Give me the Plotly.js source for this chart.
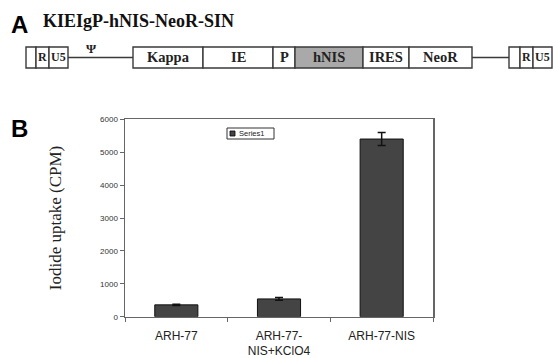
<!DOCTYPE html>
<html>
<head>
<meta charset="utf-8">
<script src="https://cdn.plot.ly/plotly-3.0.1.min.js"></script>
<style>html,body{margin:0;padding:0;background:#fff;}#chart{width:553px;height:358px;}</style>
</head>
<body>
<div id="chart"></div>
<script>
// ---- data ----
const categories = ["ARH-77", "ARH-77-<br>NIS+KClO4", "ARH-77-NIS"];
const uptake = [360, 540, 5400];
const uptakeErr = [20, 40, 200];
const seriesName = "Series1";
const yTickVals = [0, 1000, 2000, 3000, 4000, 5000, 6000];
const constructTitle = "KIEIgP-hNIS-NeoR-SIN";
const mainSegments = ["Kappa", "IE", "P", "hNIS", "IRES", "NeoR"];
const ltrSegments = ["", "R", "U5"];
const psiLabel = "\u03A8";

// ---- layout helpers (pixel -> paper) ----
const W = 553, H = 358;
const px = x => x / W;
const py = y => 1 - y / H;

const shapes = [];
const annotations = [];

// diagram geometry
const boxTop = 47, boxBot = 68, midY = 57.5;
const mainEdges = [133, 203, 273, 295, 363, 409, 472];
const leftEdges = [26, 36, 49, 68];
const rightEdges = [509, 520, 533, 552];
const lineCol = "#3a3a3a";

function addBoxes(edges, labels, fontSize, fills) {
  for (let i = 0; i < labels.length; i++) {
    shapes.push({
      type: "rect", xref: "paper", yref: "paper",
      x0: px(edges[i]), x1: px(edges[i + 1]), y0: py(boxBot), y1: py(boxTop),
      line: {color: lineCol, width: 1.4},
      fillcolor: (fills && fills[i]) || "#fff"
    });
    if (labels[i]) {
      annotations.push({
        xref: "paper", yref: "paper", x: px((edges[i] + edges[i + 1]) / 2), y: py(midY),
        text: "<b>" + labels[i] + "</b>", showarrow: false,
        xanchor: "center", yanchor: "middle",
        font: {family: "Liberation Serif, Times New Roman, serif", size: fontSize, color: "#222"}
      });
    }
  }
}
addBoxes(leftEdges, ltrSegments, 12);
addBoxes(mainEdges, mainSegments, 14.5, [null, null, null, "#a9a9a9", null, null]);
addBoxes(rightEdges, ltrSegments, 12);

// connecting lines
shapes.push({type: "line", xref: "paper", yref: "paper", x0: px(68), x1: px(133), y0: py(midY), y1: py(midY), line: {color: lineCol, width: 1.4}});
shapes.push({type: "line", xref: "paper", yref: "paper", x0: px(472), x1: px(509), y0: py(midY), y1: py(midY), line: {color: lineCol, width: 1.4}});

annotations.push({xref: "paper", yref: "paper", x: px(91), y: py(48.5), text: "<b>" + psiLabel + "</b>", showarrow: false,
  xanchor: "center", yanchor: "middle", font: {family: "Liberation Serif, serif", size: 13, color: "#222"}});

// panel letters & construct title
annotations.push({xref: "paper", yref: "paper", x: px(9), y: py(25), text: "<b>A</b>", showarrow: false,
  xanchor: "left", yanchor: "middle", font: {family: "Liberation Sans, Arial, sans-serif", size: 24, color: "#000"}});
annotations.push({xref: "paper", yref: "paper", x: px(41), y: py(21), text: "<b>" + constructTitle + "</b>", showarrow: false,
  xanchor: "left", yanchor: "middle", font: {family: "Liberation Serif, Times New Roman, serif", size: 18, color: "#111"}});
annotations.push({xref: "paper", yref: "paper", x: px(9), y: py(128), text: "<b>B</b>", showarrow: false,
  xanchor: "left", yanchor: "middle", font: {family: "Liberation Sans, Arial, sans-serif", size: 24, color: "#000"}});

// manual legend
shapes.push({type: "rect", xref: "paper", yref: "paper", x0: px(227), x1: px(274), y0: py(139), y1: py(128),
  line: {color: "#333", width: 1}, fillcolor: "#fff"});
shapes.push({type: "rect", xref: "paper", yref: "paper", x0: px(230), x1: px(235), y0: py(136), y1: py(131),
  line: {color: "#000", width: 0.8}, fillcolor: "#444"});
annotations.push({xref: "paper", yref: "paper", x: px(237), y: py(133.5), text: seriesName, showarrow: false,
  xanchor: "left", yanchor: "middle", font: {family: "Liberation Sans, Arial, sans-serif", size: 7.5, color: "#222"}});

const trace = {
  type: "bar", x: categories, y: uptake, name: seriesName,
  marker: {color: "#444444", line: {color: "#111", width: 1}},
  width: 0.42,
  error_y: {type: "data", array: uptakeErr, visible: true, color: "#111", thickness: 1.5, width: 4}
};

const layout = {
  width: W, height: H,
  margin: {l: 0, r: 0, t: 0, b: 0},
  paper_bgcolor: "#fff", plot_bgcolor: "#fff",
  showlegend: false,
  xaxis: {
    domain: [px(125), px(433)],
    type: "category",
    showline: true, linecolor: "#666", linewidth: 1.5, mirror: true,
    ticks: "outside", tickson: "boundaries", ticklen: 4, tickcolor: "#666",
    ticklabelstandoff: 7,
    tickfont: {family: "Liberation Sans, Arial, sans-serif", size: 12, color: "#222"},
    showgrid: false, zeroline: false, fixedrange: true
  },
  yaxis: {
    domain: [py(316.7), py(119.3)],
    range: [0, 6000],
    tickvals: yTickVals,
    showline: true, linecolor: "#666", linewidth: 1.5, mirror: true,
    ticks: "outside", ticklen: 4, tickcolor: "#666",
    tickfont: {family: "Liberation Sans, Arial, sans-serif", size: 8, color: "#333"},
    showgrid: false, zeroline: false,
    title: {text: "Iodide uptake (CPM)", standoff: 34,
      font: {family: "Liberation Serif, Times New Roman, serif", size: 17, color: "#222"}}
  },
  shapes: shapes,
  annotations: annotations
};

Plotly.newPlot("chart", [trace], layout, {displayModeBar: false, staticPlot: true});
</script>
</body>
</html>
